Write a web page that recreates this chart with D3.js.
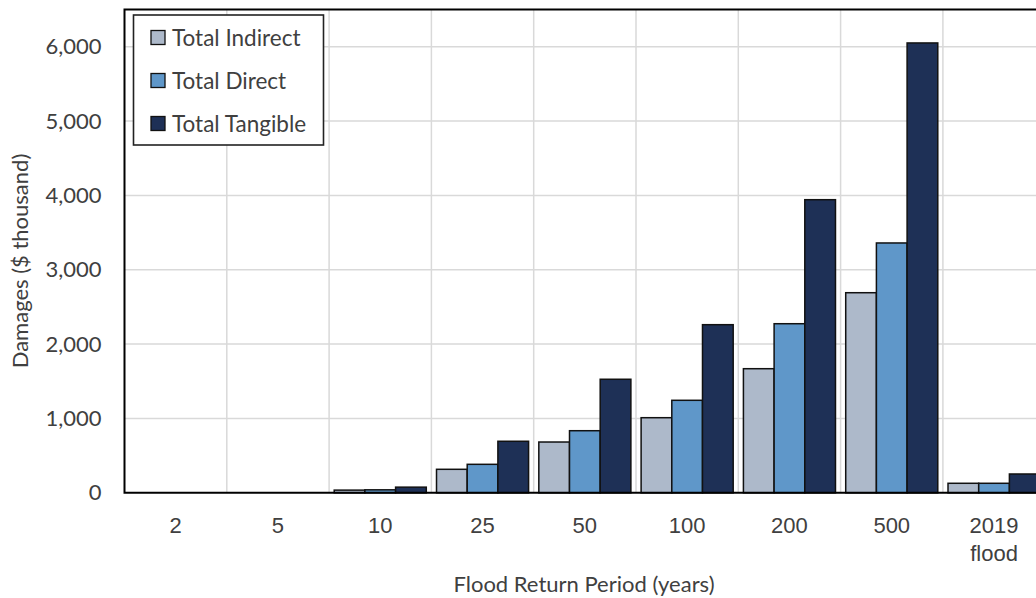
<!DOCTYPE html>
<html>
<head>
<meta charset="utf-8">
<script src="https://cdn.jsdelivr.net/npm/d3@7"></script>
<style>
  html, body { margin: 0; padding: 0; background: #fff; }
  svg { display: block; font-family: "Lato", "Liberation Sans", sans-serif; }
</style>
</head>
<body>
<svg id="chart" width="1036" height="598"></svg>
<script>
// Flood damage estimates by return period ($ thousand)
const categories = ["2", "5", "10", "25", "50", "100", "200", "500", "2019\nflood"];
const seriesNames = ["Total Indirect", "Total Direct", "Total Tangible"];
const totalIndirect = [0, 0, 36, 316, 683, 1010, 1669, 2691, 128];
const totalDirect   = [0, 0, 40, 383, 835, 1244, 2274, 3360, 128];
const totalTangible = [0, 0, 76, 693, 1527, 2261, 3942, 6050, 253];
const yTicks = [0, 1000, 2000, 3000, 4000, 5000, 6000];
const yMax = 6500;
const colors = ["#adb9ca", "#5f97c9", "#1e3056"];

const seriesValues = [totalIndirect, totalDirect, totalTangible];
const rows = categories.map((c, i) => ({
  cat: c,
  vals: seriesNames.map((s, k) => ({ key: s, value: seriesValues[k][i] }))
}));

const svg = d3.select("#chart");
const plot = { left: 124.5, right: 1045.2, top: 9.5, bottom: 492.8 };
const textColor = "#404040";
const fontSize = "22px";

const x = d3.scaleBand().domain(categories).range([plot.left, plot.right]).padding(0);
// bar group spans the middle 90% of each band; bars touch each other
const xInner = d3.scaleBand().domain(seriesNames)
  .range([x.bandwidth() * 0.05, x.bandwidth() * 0.95]).padding(0);
const y = d3.scaleLinear().domain([0, yMax]).range([plot.bottom, plot.top]);

// horizontal gridlines
svg.append("g")
  .selectAll("line")
  .data(yTicks.filter(d => d > 0))
  .join("line")
  .attr("x1", plot.left).attr("x2", plot.right)
  .attr("y1", d => y(d)).attr("y2", d => y(d))
  .attr("stroke", "#d9d9d9").attr("stroke-width", 1.5);

// vertical gridlines at category boundaries
svg.append("g")
  .selectAll("line")
  .data(categories.slice(1))
  .join("line")
  .attr("x1", d => x(d)).attr("x2", d => x(d))
  .attr("y1", plot.top).attr("y2", plot.bottom)
  .attr("stroke", "#d9d9d9").attr("stroke-width", 1.5);

// bars
const groups = svg.append("g")
  .selectAll("g")
  .data(rows)
  .join("g")
  .attr("transform", d => `translate(${x(d.cat)},0)`);

groups.selectAll("rect")
  .data(d => d.vals.filter(v => v.value > 0))
  .join("rect")
  .attr("x", d => xInner(d.key))
  .attr("width", xInner.bandwidth())
  .attr("y", d => y(d.value))
  .attr("height", d => y(0) - y(d.value))
  .attr("fill", d => colors[seriesNames.indexOf(d.key)])
  .attr("stroke", "#111")
  .attr("stroke-width", 1.5);

// plot border (top, left, bottom)
svg.append("path")
  .attr("d", `M${plot.right + 5},${plot.top} H${plot.left} V${plot.bottom} H${plot.right + 5}`)
  .attr("fill", "none")
  .attr("stroke", "#000")
  .attr("stroke-width", 2);

// y axis labels
const yAxis = d3.axisLeft(y).tickValues(yTicks).tickSize(0).tickPadding(23)
  .tickFormat(d3.format(","));
const gy = svg.append("g").attr("transform", `translate(${plot.left},0)`).call(yAxis);
gy.select(".domain").remove();
gy.selectAll("text")
  .attr("fill", textColor)
  .style("font-size", fontSize)
  .style("font-family", "Lato, sans-serif");

// x axis labels (multi-line)
const xAxis = d3.axisBottom(x).tickSize(0).tickPadding(0).tickFormat("");
const gx = svg.append("g").attr("transform", `translate(0,${plot.bottom})`).call(xAxis);
gx.select(".domain").remove();
gx.selectAll(".tick").each(function (d) {
  const t = d3.select(this).append("text")
    .attr("fill", textColor)
    .attr("text-anchor", "middle")
    .style("font-size", fontSize);
  d.split("\n").forEach((line, i) => {
    t.append("tspan").attr("x", 0).attr("y", 40 + i * 28).text(line);
  });
});

// axis titles
svg.append("text")
  .attr("x", 584).attr("y", 592)
  .attr("text-anchor", "middle")
  .attr("fill", textColor)
  .style("font-size", fontSize)
  .text("Flood Return Period (years)");

svg.append("text")
  .attr("transform", "translate(28,261) rotate(-90)")
  .attr("text-anchor", "middle")
  .attr("fill", textColor)
  .style("font-size", fontSize)
  .text("Damages ($ thousand)");

// legend
const legend = svg.append("g");
legend.append("rect")
  .attr("x", 133.5).attr("y", 15).attr("width", 190).attr("height", 130)
  .attr("fill", "#fff").attr("stroke", "#222").attr("stroke-width", 1.6);
const items = legend.selectAll("g.item")
  .data(seriesNames)
  .join("g")
  .attr("class", "item")
  .attr("transform", (d, i) => `translate(151,${37.5 + i * 43})`);
items.append("rect")
  .attr("x", 0).attr("y", -7).attr("width", 14).attr("height", 14)
  .attr("fill", (d, i) => colors[i])
  .attr("stroke", "#111").attr("stroke-width", 1.3);
items.append("text")
  .attr("x", 21).attr("y", 8)
  .attr("fill", textColor)
  .style("font-size", "22.5px")
  .text(d => d);
</script>
</body>
</html>
